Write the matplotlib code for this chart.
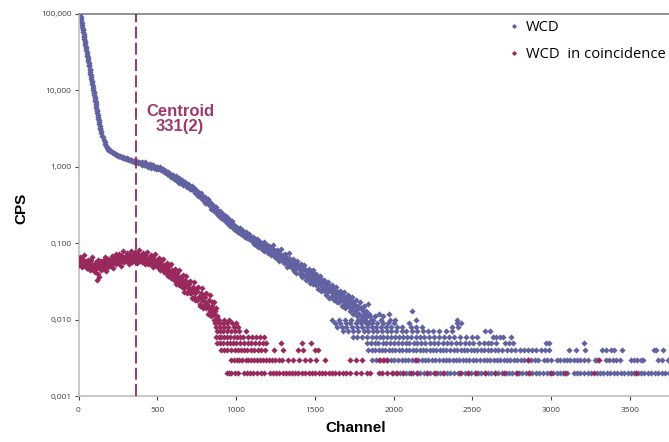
import numpy as np
import matplotlib
matplotlib.use("Agg")
import matplotlib.pyplot as plt
from matplotlib.lines import Line2D

# values are in mCPS (1 = 0.001 CPS); channels of the continuous parts are regular
# WCD: steep start, channels 10..140 every 2
blue_steep = [100000, 94700, 90500, 85000, 80400, 76200, 72200, 68300, 63900, 61300,
              58100, 55000, 52100, 50100, 46700, 44300, 41900, 39700, 37000, 35600,
              33700, 31900, 30300, 28600, 27600, 25700, 24300, 23100, 21800, 20700,
              19300, 18600, 17600, 16600, 15800, 14900, 14100, 13400, 12900, 12000,
              11400, 10800, 10200, 9670, 9160, 8670, 8100, 7780, 7370, 6980,
              6610, 6260, 5930, 5610, 5400, 5040, 4770, 4520, 4280, 4050,
              3840, 3680, 3440, 3260, 3080, 2920]
# WCD: knee, channels 145..395 every 5
blue_knee = [2770, 2560, 2420, 2230, 2110, 1960, 1860, 1770, 1740, 1680,
             1670, 1620, 1610, 1560, 1555, 1510, 1500, 1465, 1460, 1420,
             1425, 1395, 1400, 1365, 1375, 1340, 1350, 1315, 1325, 1290,
             1305, 1275, 1285, 1250, 1265, 1235, 1245, 1210, 1225, 1185,
             1205, 1170, 1190, 1160, 1180, 1145, 1160, 1130, 1150, 1120,
             1135]
# WCD: channels 400..995 every 5
blue_mid = [1148, 1064, 1111, 1070, 1139, 1046, 1070, 1104, 1002, 1070,
            1022, 1077, 979, 1042, 1015, 1058, 970, 1002, 946, 1006,
            999, 925, 968, 930, 987, 902, 920, 944, 850, 901,
            853, 892, 803, 847, 815, 842, 766, 786, 734, 775,
            777, 686, 734, 690, 759, 659, 685, 716, 612, 675,
            619, 674, 583, 636, 608, 641, 561, 593, 538, 591,
            583, 513, 549, 515, 567, 491, 510, 530, 451, 493,
            449, 485, 417, 451, 428, 448, 390, 409, 368, 402,
            401, 337, 369, 336, 376, 312, 333, 348, 284, 319,
            282, 319, 261, 291, 273, 296, 243, 263, 230, 260,
            257, 216, 237, 216, 242, 201, 214, 224, 183, 207,
            183, 207, 169, 189, 178, 193, 158, 171, 149, 169]
# WCD: channels 1000..1850 every 5
blue_tail = [162, 148, 158, 141, 155, 138, 150, 147, 131, 142,
             136, 122, 129, 140, 118, 127, 112, 131, 120, 109,
             117, 104, 121, 99, 110, 95, 113, 102, 90, 107,
             98, 86, 101, 83, 92, 105, 79, 90, 85, 96,
             88, 74, 91, 78, 70, 85, 76, 95, 68, 80,
             77, 64, 81, 69, 58, 75, 66, 84, 60, 70,
             66, 55, 72, 58, 49, 63, 56, 75, 51, 60,
             57, 47, 62, 50, 43, 55, 41, 59, 48, 52,
             49, 40, 54, 43, 36, 47, 52, 38, 44, 33,
             42, 34, 46, 37, 30, 40, 35, 44, 29, 38,
             35, 28, 39, 31, 25, 34, 30, 37, 24, 33,
             30, 24, 33, 26, 21, 29, 25, 31, 19, 27,
             25, 20, 28, 22, 18, 24, 21, 27, 17, 23,
             22, 17, 24, 19, 15, 21, 18, 23, 14, 20,
             19, 15, 21, 16, 13, 18, 14, 20, 12, 17,
             16, 13, 18, 14, 11, 15, 12, 17, 10, 14,
             14, 11, 15, 12, 10, 13, 11, 16, 9, 12, 11]
# WCD: in-between channels 1003..1853 every 10
blue_tail2 = [152, 139, 160, 133, 145, 126, 138, 119, 124, 115,
              109, 118, 100, 108, 92, 103, 97, 88, 93, 82,
              84, 79, 87, 72, 81, 67, 78, 73, 63, 69,
              62, 68, 54, 64, 57, 52, 60, 46, 55, 49,
              46, 41, 50, 37, 45, 40, 36, 42, 33, 39,
              32, 36, 29, 34, 27, 30, 26, 29, 23, 26,
              24, 21, 26, 19, 23, 20, 18, 22, 16, 19,
              17, 15, 19, 14, 16, 13, 15, 12, 14, 11,
              13, 10, 12, 11, 9, 10]

# WCD low-count region: channels found on each discrete level (mCPS)
blue_lvl2 = [1995, 2015, 2040, 2060, 2080, 2100, 2125, 2145, 2165, 2190, 2210, 2230, 2255, 2275,
             2295, 2320, 2340, 2360, 2385, 2405, 2425, 2450, 2470, 2490, 2515, 2535, 2555, 2580,
             2600, 2620, 2645, 2665, 2685, 2710, 2730, 2750, 2775, 2795, 2815, 2840, 2860, 2880,
             2905, 2925, 2945, 2970, 2990, 3010, 3035, 3055, 3075, 3100, 3145, 3165, 3185, 3210,
             3230, 3250, 3290, 3310, 3330, 3355, 3375, 3395, 3420, 3440, 3460, 3485, 3505, 3525,
             3550, 3570, 3590, 3615, 3635, 3655, 3680, 3700, 3720, 3745]
blue_lvl3 = [1865, 1890, 1915, 1940, 1960, 1985, 2005, 2025, 2050, 2070, 2090, 2115, 2135, 2155,
             2180, 2200, 2220, 2245, 2265, 2285, 2310, 2330, 2350, 2375, 2395, 2415, 2440, 2460,
             2480, 2505, 2525, 2545, 2570, 2590, 2610, 2635, 2655, 2675, 2700, 2720, 2740, 2765,
             2785, 2805, 2830, 2850, 2870, 2895, 2915, 2955, 2975, 3000, 3035, 3055, 3080, 3100,
             3120, 3145, 3165, 3185, 3210, 3230, 3275, 3290, 3345, 3365, 3390, 3410, 3435, 3505,
             3525, 3545, 3570, 3585, 3680, 3700, 3740]
blue_lvl4 = [1835, 1860, 1880, 1905, 1925, 1945, 1970, 1990, 2010, 2035, 2055, 2075, 2100, 2120,
             2140, 2165, 2185, 2205, 2230, 2250, 2270, 2295, 2315, 2335, 2360, 2380, 2400, 2425,
             2445, 2465, 2490, 2510, 2530, 2555, 2575, 2600, 2620, 2645, 2665, 2690, 2720, 2745,
             2770, 2800, 2830, 2850, 2880, 2905, 2935, 2960, 2985, 3110, 3160, 3215, 3320, 3345,
             3380, 3395, 3450, 3650, 3665, 3710]
blue_lvl5 = [1830, 1855, 1880, 1900, 1930, 1950, 1975, 2000, 2030, 2055, 2080, 2100, 2130, 2150,
             2175, 2200, 2230, 2255, 2280, 2310, 2340, 2365, 2395, 2420, 2450, 2480, 2505, 2540,
             2570, 2600, 2620, 2650, 2705, 2730, 2760, 2965, 2985, 3210]
blue_lvl6 = [1740, 1770, 1800, 1830, 1860, 1885, 1910, 1935, 1960, 1985, 2010, 2035, 2060, 2085,
             2110, 2140, 2165, 2195, 2225, 2255, 2290, 2320, 2350, 2380, 2420, 2460, 2500, 2530,
             2630, 2650, 2675, 2695, 2745]
blue_lvl7 = [1680, 1710, 1745, 1775, 1810, 1840, 1870, 1895, 1925, 1955, 1985, 2015, 2050, 2080,
             2115, 2150, 2185, 2215, 2250, 2290, 2330, 2370, 2580, 2612]
blue_lvl8 = [1640, 1670, 1700, 1735, 1765, 1800, 1830, 1860, 1890, 1920, 1950, 1985, 2020, 2055,
             2110, 2140, 2180, 2370, 2405]
blue_lvl9 = [1630, 1660, 1695, 1725, 1760, 1790, 1825, 1860, 1895, 1930, 1965, 2000, 2095, 2400, 2425]
blue_lvl10 = [1610, 1650, 1690, 1730, 1775, 1820, 1870, 1920, 1975, 2010, 2140, 2400]
blue_out_ch = [1880, 1935, 1905, 1970, 2117]
blue_out_val = [11, 11, 12, 12, 13]

# WCD in coincidence: channels 0..880 every 5
red_cont = [60, 52, 66, 55, 49, 63, 57, 70, 51, 58,
            55, 47, 61, 50, 44, 58, 53, 66, 45, 52,
            51, 42, 56, 33, 47, 61, 36, 53, 45, 58,
            54, 46, 60, 50, 65, 43, 57, 62, 49, 59,
            61, 51, 68, 55, 47, 64, 58, 72, 53, 62,
            65, 55, 72, 59, 51, 68, 62, 78, 56, 66,
            68, 58, 75, 62, 54, 70, 64, 80, 57, 67,
            70, 59, 77, 63, 55, 72, 66, 82, 58, 68,
            68, 57, 74, 61, 53, 70, 63, 76, 54, 64,
            64, 53, 70, 57, 49, 66, 58, 72, 50, 60,
            59, 49, 64, 51, 44, 58, 50, 62, 42, 52,
            51, 41, 55, 44, 37, 50, 42, 53, 35, 44,
            42, 33, 46, 36, 29, 41, 35, 44, 28, 36,
            35, 27, 38, 30, 23, 33, 28, 37, 22, 30,
            29, 22, 32, 24, 19, 27, 23, 31, 18, 25,
            24, 18, 27, 20, 15, 22, 19, 26, 14, 21,
            20, 15, 22, 16, 12, 18, 14, 21, 11, 17,
            15, 12, 17, 13, 10, 14, 11]
# WCD in coincidence: in-between channels 2..882 every 10
red_cont2 = [56, 63, 50, 59, 54, 47, 57, 51, 60, 48,
             46, 54, 40, 50, 57, 48, 55, 51, 61, 53,
             59, 54, 63, 57, 66, 56, 60, 69, 58, 64,
             62, 71, 60, 66, 58, 73, 64, 61, 69, 63,
             66, 59, 70, 61, 57, 64, 55, 62, 53, 58,
             56, 50, 53, 46, 49, 43, 46, 39, 42, 37,
             39, 34, 37, 31, 33, 29, 31, 26, 28, 24,
             26, 22, 24, 20, 22, 18, 20, 16, 18, 15,
             17, 14, 15, 13, 14, 12, 13, 11, 11]
red_lvl2 = [940, 955, 970, 990, 1010, 1050, 1070, 1090, 1110, 1135, 1160, 1180, 1215, 1235,
            1255, 1275, 1295, 1315, 1335, 1355, 1375, 1395, 1420, 1440, 1460, 1480, 1500, 1525,
            1545, 1565, 1590, 1610, 1630, 1650, 1680, 1700, 1725, 1760, 1790, 1830, 1850, 1905,
            1925, 1960, 1990, 2020, 2060, 2110, 2150, 2210, 2260, 2310, 2420, 2470, 2520, 2580,
            2640, 2700, 2780, 2860, 3000, 3090, 3270, 3540]
red_lvl3 = [965, 985, 1005, 1020, 1040, 1060, 1075, 1095, 1115, 1130, 1150, 1170, 1190, 1210,
            1230, 1250, 1270, 1290, 1330, 1360, 1400, 1440, 1470, 1510, 1565, 1720, 1760, 1800,
            1905, 1930, 1955, 2140, 2850, 3300]
red_lvl4 = [905, 925, 945, 965, 990, 1010, 1030, 1050, 1070, 1095, 1115, 1140, 1160, 1185,
            1240, 1300, 1395, 1425, 1500, 1520]
red_lvl5 = [880, 900, 920, 940, 960, 980, 1000, 1025, 1050, 1075, 1095, 1120, 1145, 1170,
            1190, 1285, 1420, 1475]
red_lvl6 = [870, 890, 905, 925, 945, 960, 985, 1005, 1025, 1045, 1075, 1100, 1125, 1150, 1180]
red_lvl7 = [880, 900, 920, 945, 965, 990, 1020, 1060]
red_lvl8 = [870, 895, 925, 950, 985, 1010]
red_lvl9 = [865, 890, 915, 940, 975, 1000]
red_lvl10 = [861, 892, 924, 956]

centroid_channel = 367
y_ticks = [0.001, 0.01, 0.1, 1, 10, 100]
y_tick_labels = ["0,001", "0,010", "0,100", "1,000", "10,000", "100,000"]
x_ticks = [0, 500, 1000, 1500, 2000, 2500, 3000, 3500]

BLUE = "#6262A2"
RED = "#99295D"


def spectrum(parts, levels, extra_ch=(), extra_val=()):
    ch, val = [], []
    for start, step, values in parts:
        ch.extend(start + step * np.arange(len(values)))
        val.extend(values)
    for level, chans in levels.items():
        ch.extend(chans)
        val.extend([level] * len(chans))
    ch.extend(extra_ch)
    val.extend(extra_val)
    return np.array(ch), np.array(val) / 1000.0


blue_x, blue_y = spectrum(
    [(10, 2, blue_steep), (145, 5, blue_knee), (400, 5, blue_mid),
     (1000, 5, blue_tail), (1003, 10, blue_tail2)],
    {2: blue_lvl2, 3: blue_lvl3, 4: blue_lvl4, 5: blue_lvl5, 6: blue_lvl6,
     7: blue_lvl7, 8: blue_lvl8, 9: blue_lvl9, 10: blue_lvl10},
    blue_out_ch, blue_out_val)
red_x, red_y = spectrum(
    [(0, 5, red_cont), (2, 10, red_cont2)],
    {2: red_lvl2, 3: red_lvl3, 4: red_lvl4, 5: red_lvl5, 6: red_lvl6,
     7: red_lvl7, 8: red_lvl8, 9: red_lvl9, 10: red_lvl10})

plt.rcParams["font.family"] = ["Open Sans", "DejaVu Sans"]

W, H = 669, 442
fig = plt.figure(figsize=(W / 100, H / 100), dpi=100)
ax = fig.add_axes([78.5 / W, 1 - 396 / H, 1 - 78.5 / W, (396 - 14) / H])

ax.scatter(blue_x, blue_y, s=10, marker="D", color=BLUE, linewidths=0, zorder=2)
ax.scatter(red_x, red_y, s=10, marker="D", color=RED, linewidths=0, zorder=3)
ax.axvline(centroid_channel, color="#8E2B58", lw=1.3, dashes=(6.6, 2.4), zorder=4)

ax.set_yscale("log")
ax.set_ylim(0.001, 100)
ax.set_xlim(0, 3747)
ax.set_yticks(y_ticks)
ax.set_yticklabels(y_tick_labels)
ax.minorticks_off()
ax.set_xticks(x_ticks)
ax.tick_params(labelsize=6, colors="#404040", length=3, width=0.8, pad=2)
ax.tick_params(axis="x", pad=5)
for side in ["left", "bottom"]:
    ax.spines[side].set_color("#BFBFBF")
    ax.spines[side].set_linewidth(1.2)
ax.spines["top"].set_color("#7F7F7F")
ax.spines["top"].set_linewidth(1.2)
ax.spines["right"].set_visible(False)

fig.text(21.5 / W, 1 - 208 / H, "CPS", rotation=90, ha="center", va="center",
         fontsize=11, fontweight="bold", family=["Liberation Sans", "DejaVu Sans"])
fig.text(355.5 / W, 1 - 428 / H, "Channel", ha="center", va="center",
         fontsize=11, fontweight="bold", family=["Liberation Sans", "DejaVu Sans"])
fig.text(180 / W, 1 - 119 / H, "Centroid\n331(2)", ha="center", va="center",
         multialignment="center", linespacing=1.0, color="#9E3A6B",
         fontsize=12, fontweight="bold", family=["Liberation Sans", "DejaVu Sans"])

handles = [Line2D([], [], marker="D", ls="none", color=BLUE, markersize=1.7),
           Line2D([], [], marker="D", ls="none", color=RED, markersize=1.7)]
fig.legend(handles, ["WCD", "WCD  in coincidence"], loc="upper left",
           bbox_to_anchor=(510 / W, 1 - 20 / H), frameon=False, fontsize=10.6,
           handlelength=0.6, handletextpad=0.5, labelspacing=0.8,
           borderpad=0, borderaxespad=0)

fig.savefig("out.png", dpi=100)
